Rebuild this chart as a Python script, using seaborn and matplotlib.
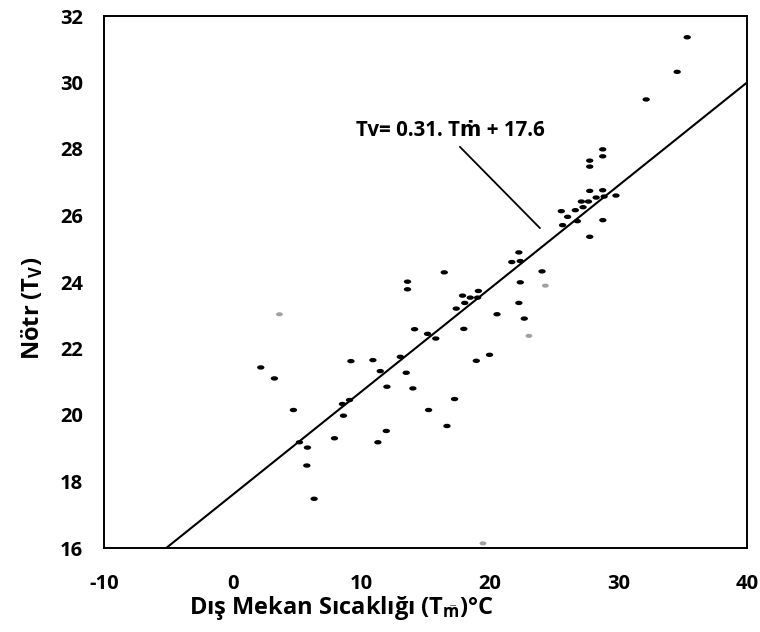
import matplotlib
matplotlib.use("Agg")
import matplotlib.pyplot as plt
import seaborn as sns
import numpy as np
import pandas as pd
from matplotlib.path import Path
from matplotlib.markers import MarkerStyle
from matplotlib.transforms import Affine2D

# ---------------- data ----------------
outdoor_temp = [2.19, 3.25, 4.73, 5.20, 5.82, 5.77, 6.34, 7.92, 8.62, 8.54,
                9.09, 9.20, 10.91, 11.48, 12.00, 11.30, 11.95, 13.04, 13.50, 14.02,
                14.15, 13.60, 13.60, 15.16, 15.80, 15.24, 16.67, 17.26, 16.46, 17.39,
                17.98, 18.05, 17.88, 18.48, 19.05, 19.11, 18.95, 19.98, 20.56, 21.71,
                22.37, 22.26, 22.37, 22.26, 22.68, 24.06, 25.56, 25.66, 26.05, 26.65,
                26.81, 27.12, 27.25, 27.67, 27.77, 27.77, 27.77, 27.77, 28.27, 28.78,
                28.78, 28.78, 28.89, 28.79, 29.81, 32.16, 34.57, 35.35]
neutral_temp = [21.43, 21.10, 20.15, 19.18, 19.02, 18.48, 17.48, 19.30, 19.98, 20.33,
                20.45, 21.62, 21.65, 21.32, 20.85, 19.18, 19.52, 21.75, 21.27, 20.80,
                22.58, 24.01, 23.78, 22.44, 22.30, 20.15, 19.67, 20.48, 24.29, 23.20,
                22.59, 23.37, 23.59, 23.53, 23.53, 23.73, 21.63, 21.81, 23.03, 24.60,
                24.63, 24.89, 23.99, 23.37, 22.90, 24.32, 26.13, 25.71, 25.96, 26.16,
                25.83, 26.42, 26.25, 26.42, 26.74, 27.65, 27.47, 25.36, 26.54, 27.99,
                27.78, 26.76, 26.57, 25.86, 26.60, 29.49, 30.32, 31.36]

# faint (light) points in the scan
faint_outdoor = [3.64, 23.04, 24.32, 19.47]
faint_neutral = [23.03, 22.38, 23.89, 16.14]

slope = 0.31
intercept = 17.6
line_x = [-5.16, 40.0]
line_y = [slope * v + intercept for v in line_x]

x_ticks = [-10, 0, 10, 20, 30, 40]
y_ticks = [16, 18, 20, 22, 24, 26, 28, 30, 32]

equation_text = "Tv= 0.31. Tṁ + 17.6"
x_label = r"Dış Mekan Sıcaklığı (T$_{\bar{m}}$)°C"
y_label = r"Nötr (T$_{V}$)"

# ---------------- style ----------------
sns.set_style("white")
plt.rcParams["font.family"] = ["Open Sans", "DejaVu Sans"]
plt.rcParams["font.weight"] = "bold"
plt.rcParams["text.color"] = "black"
plt.rcParams["mathtext.fontset"] = "custom"
plt.rcParams["mathtext.rm"] = "Open Sans:bold"
plt.rcParams["mathtext.it"] = "Open Sans:bold"
plt.rcParams["mathtext.bf"] = "Open Sans:bold"

fig = plt.figure(figsize=(7.6, 6.32), dpi=100)
ax = fig.add_axes([104 / 760, 84 / 632, 643 / 760, 532 / 632])

# ellipse-shaped marker (flattened dots as in the scan)
ell = Path.unit_circle().transformed(Affine2D().scale(1.0, 0.6))
ell_marker = MarkerStyle(ell)

df = pd.DataFrame({"x": outdoor_temp, "y": neutral_temp})
df_f = pd.DataFrame({"x": faint_outdoor, "y": faint_neutral})
df_line = pd.DataFrame({"x": line_x, "y": line_y})

sns.lineplot(data=df_line, x="x", y="y", color="black", linewidth=1.5, ax=ax)
sns.scatterplot(data=df_f, x="x", y="y", marker=ell_marker, s=24, color="#a0a0a0",
                edgecolor="none", ax=ax, zorder=3)
sns.scatterplot(data=df, x="x", y="y", marker=ell_marker, s=28, color="black",
                edgecolor="none", ax=ax, zorder=3)

ax.set_xlim(-10, 40)
ax.set_ylim(16, 32)
ax.set_xticks(x_ticks)
ax.set_yticks(y_ticks)
ax.set_xticklabels([str(v) for v in x_ticks])
ax.set_yticklabels([str(v) for v in y_ticks])

for sp in ax.spines.values():
    sp.set_visible(True)
    sp.set_color("black")
    sp.set_linewidth(1.4)

ax.tick_params(axis="x", direction="in", length=4, width=1.2, pad=19,
               labelsize=14.5, colors="black")
ax.tick_params(axis="y", direction="out", length=4, width=1.2, pad=11,
               labelsize=14.5, colors="black")
for lab in ax.get_xticklabels() + ax.get_yticklabels():
    lab.set_fontweight("bold")

ax.set_xlabel(x_label, fontsize=17, fontweight="bold", color="black")
ax.set_ylabel(y_label, fontsize=17, fontweight="bold", color="black")
ax.xaxis.set_label_coords(0.37, -0.113)
ax.xaxis.label.set_va("center")
ax.yaxis.set_label_coords(-0.112, 0.45)
ax.yaxis.label.set_va("center")

ax.annotate(equation_text, xy=(23.9, 25.62), xytext=(16.9, 28.57),
            ha="center", va="center", fontsize=14.8, fontweight="bold",
            color="black", family=["Open Sans", "DejaVu Sans"],
            arrowprops=dict(arrowstyle="-", color="black", lw=1.3,
                            relpos=(0.52, 0.0), shrinkA=3, shrinkB=0))

ax.grid(False)
fig.savefig("out.png", dpi=100, facecolor="white")
